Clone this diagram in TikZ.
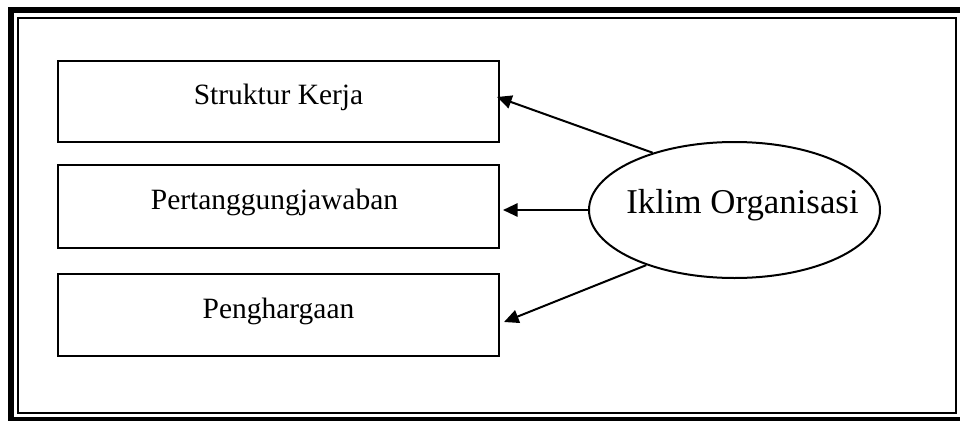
\documentclass[tikz,border=0pt]{standalone}
\usepackage{fontspec}
\setmainfont{Liberation Serif}
\usetikzlibrary{shapes.geometric,arrows.meta}
\tikzset{
  boxnode/.style={draw,line width=1.5pt,minimum width=330.75pt,inner sep=0pt,
    font=\fontsize{22.1}{26}\selectfont,text height=0.683em,text depth=0.217em},
  ellnode/.style={draw,ellipse,line width=1.5pt,minimum width=218.25pt,minimum height=102pt,
    inner sep=0pt},
  elltext/.style={inner sep=0pt,font=\fontsize{26.1}{30}\selectfont,text height=0.683em,text depth=0.217em},
  arr/.style={line width=1.5pt,-{Triangle[length=11pt,width=10pt]}},
}
\begin{document}
\begin{tikzpicture}[x=0.75pt,y=-0.75pt]
\useasboundingbox (0,0) rectangle (960,421);
\clip (0,0) rectangle (960,421);
% frame
\draw[line width=4.5pt] (11,10) rectangle (963,420);
\draw[line width=1.5pt] (18,18) rectangle (956,413);
% boxes
\node[boxnode,minimum height=60.75pt] (b1) at (278.5,101.5) {Struktur Kerja};
\node[boxnode,minimum height=62.25pt] (b2) at (278.5,206.5) {Pertanggungjawaban\hspace*{6pt}};
\node[boxnode,minimum height=61.5pt] (b3) at (278.5,315) {Penghargaan};
% ellipse
\node[ellnode] (io) at (734.5,210) {};
\node[elltext] (iot) at (742.5,210) {Iklim Organisasi};
% arrow tips
\coordinate (t1) at (497,97);
\coordinate (t2) at (503,210);
\coordinate (t3) at (504,322);
\draw[arr] (io.145) -- (t1);
\draw[arr] (io.west) -- (t2);
\draw[arr] (io.212) -- (t3);
\end{tikzpicture}
\end{document}
